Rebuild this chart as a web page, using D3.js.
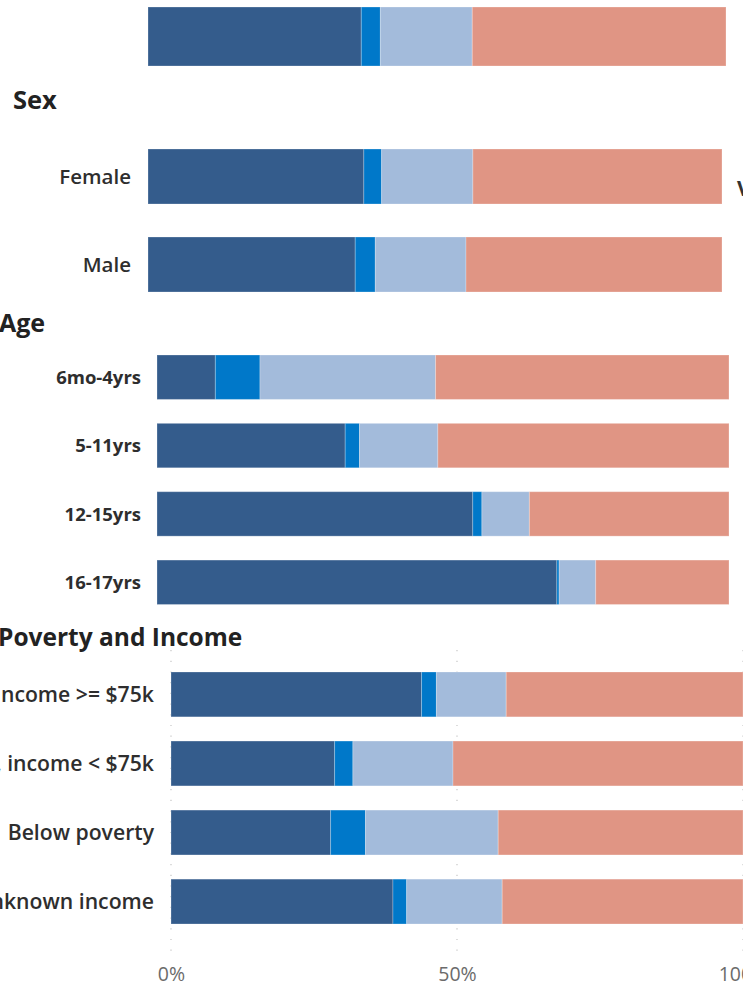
<!DOCTYPE html>
<html>
<head>
<meta charset="utf-8">
<script src="https://cdn.jsdelivr.net/npm/d3@7"></script>
<style>
  html, body { margin: 0; padding: 0; background: #fff; }
  svg { display: block; }
  text { font-family: "Open Sans", "Segoe UI", sans-serif; }
</style>
</head>
<body>
<svg id="chart" width="743" height="994"></svg>
<script>
// ---- data (percent of each group, four stacked statuses) ----
const seriesKeys = ["status1", "status2", "status3", "status4"];
const seriesColors = ["#345c8c", "#0078c9", "#a3bbdb", "#e09584"];

const overallCats = ["All"];
const overallValues = [[36.9, 3.3, 15.9, 43.9]];

const sexCats = ["Female", "Male"];
const sexValues = [
  [37.6, 3.1, 15.9, 43.4],
  [36.1, 3.5, 15.8, 44.6]
];

const ageCats = ["6mo-4yrs", "5-11yrs", "12-15yrs", "16-17yrs"];
const ageValues = [
  [10.2, 7.8, 30.7, 51.3],
  [32.9, 2.5, 13.7, 50.9],
  [55.2, 1.6, 8.3, 34.9],
  [69.9, 0.4, 6.4, 23.3]
];

const incomeCats = ["Income >= $75k", "Above poverty, income < $75k", "Below poverty", "Unknown income"];
const incomeValues = [
  [43.8, 2.6, 12.2, 41.4],
  [28.6, 3.2, 17.5, 50.7],
  [27.9, 6.1, 23.2, 42.8],
  [38.8, 2.4, 16.7, 42.1]
];

const axisTicks = [0, 50, 100];

// ---- drawing ----
const svg = d3.select("#chart");
const stack = d3.stack().keys(seriesKeys);

function toRows(cats, values) {
  return cats.map((c, i) => {
    const row = { cat: c };
    seriesKeys.forEach((k, j) => { row[k] = values[i][j]; });
    return row;
  });
}

// Draws one block of stacked horizontal bars with its own scales
function drawPanel(opt) {
  const rows = toRows(opt.cats, opt.values);
  const x = d3.scaleLinear().domain([0, 100]).range([opt.x0, opt.x1]);
  const y = d3.scaleBand().domain(opt.cats).range([opt.y0, opt.y1])
    .paddingInner(opt.pad).paddingOuter(0);
  const g = svg.append("g");

  if (opt.grid) {
    g.selectAll("line.grid").data(axisTicks).join("line")
      .attr("class", "grid")
      .attr("x1", d => x(d)).attr("x2", d => x(d))
      .attr("y1", opt.gridTop).attr("y2", opt.gridBottom)
      .attr("stroke", "#c6c6c6").attr("stroke-width", 1.2)
      .attr("stroke-dasharray", "1.2,9.5");
  }

  const layers = stack(rows);
  g.selectAll("g.layer").data(layers).join("g")
    .attr("class", "layer")
    .attr("fill", (d, i) => seriesColors[i])
    .selectAll("rect").data(d => d).join("rect")
      .attr("x", d => x(d[0]))
      .attr("y", d => y(d.data.cat))
      .attr("width", d => Math.max(0, x(d[1]) - x(d[0])))
      .attr("height", y.bandwidth())
      .attr("stroke", "#ffffff").attr("stroke-opacity", 0.25).attr("stroke-width", 1);

  if (opt.showLabels) {
    g.selectAll("text.cat").data(opt.cats).join("text")
      .attr("class", "cat")
      .attr("x", opt.labelX)
      .attr("y", d => y(d) + y.bandwidth() / 2)
      .attr("dy", "0.36em")
      .attr("text-anchor", "end")
      .attr("fill", "#2e2e2e")
      .attr("font-size", opt.labelSize)
      .attr("font-weight", opt.labelWeight)
      .text(d => d);
  }

  if (opt.axisY) {
    const axis = d3.axisBottom(x).tickValues(axisTicks).tickSize(0)
      .tickFormat(d => d + "%");
    const ag = g.append("g").attr("transform", `translate(0,${opt.axisY})`).call(axis);
    ag.select(".domain").remove();
    ag.selectAll("text")
      .attr("font-family", "'Open Sans', sans-serif")
      .attr("font-size", 19.5)
      .attr("fill", "#6b6b6b");
  }
}

function heading(text, xPos, yPos, size) {
  svg.append("text")
    .attr("x", xPos).attr("y", yPos)
    .attr("font-size", size).attr("font-weight", 700)
    .attr("fill", "#222")
    .text(text);
}

// overall bar (no row label)
drawPanel({ cats: overallCats, values: overallValues, x0: 148, x1: 726,
  y0: 7, y1: 66, pad: 0, showLabels: false });

// Sex
heading("Sex", 13, 109, 25.5);
drawPanel({ cats: sexCats, values: sexValues, x0: 148, x1: 722,
  y0: 149, y1: 292, pad: 0.375, showLabels: true, labelX: 131,
  labelSize: 20.5, labelWeight: 600 });
svg.append("text").attr("x", 737).attr("y", 196)
  .attr("font-size", 21).attr("font-weight", 700).attr("fill", "#333").text("V");

// Age
heading("Age", -1, 332, 25);
drawPanel({ cats: ageCats, values: ageValues, x0: 157, x1: 729,
  y0: 355, y1: 604.5, pad: 0.35, showLabels: true, labelX: 141,
  labelSize: 18.5, labelWeight: 700 });

// Poverty and Income
heading("Poverty and Income", -2, 646, 24.5);
drawPanel({ cats: incomeCats, values: incomeValues, x0: 171, x1: 743,
  y0: 672, y1: 924, pad: 0.35, showLabels: true, labelX: 154,
  labelSize: 21.2, labelWeight: 600,
  grid: true, gridTop: 650, gridBottom: 958, axisY: 964 });
</script>
</body>
</html>
